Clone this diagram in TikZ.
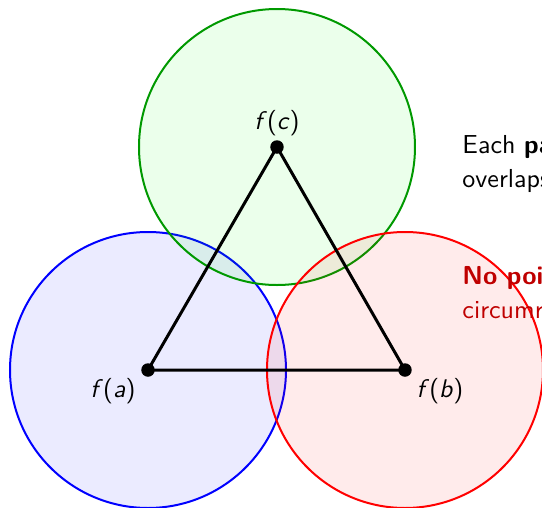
\documentclass[tikz,border=0pt]{standalone}
\usepackage{xcolor}
\newcommand{\fval}[1]{\textsl{f}(\textsl{#1})}
\begin{document}
\begin{tikzpicture}[
    x=0.4pt, y=-0.4pt,
    ball/.style={draw=#1, thick, fill=#1, fill opacity=0.08, draw opacity=1},
    edge/.style={very thick, black},
    pt/.style={circle, fill=black, inner sep=0pt, minimum size=5.4pt},
    lbl/.style={font=\sffamily\fontsize{10.2}{13}\selectfont, text=black},
    note/.style={font=\sffamily\fontsize{10.4}{13.6}\selectfont, align=left, anchor=base west, inner sep=0pt},
]
\useasboundingbox (0,0) rectangle (542,508);
\coordinate (a) at (148,370);
\coordinate (b) at (405,370);
\coordinate (c) at (277,147);
\filldraw[ball=blue]              (a) circle[radius=138*0.4pt];
\filldraw[ball=green!60!black, fill=green] (c) circle[radius=138*0.4pt];
\filldraw[ball=red]               (b) circle[radius=138*0.4pt];
\draw[edge] (a) -- (b) -- (c) -- cycle;
\node[pt] (pa) at (a) {};
\node[pt] (pb) at (b) {};
\node[pt] (pc) at (c) {};
\node[lbl] (la) at (113,391) {\fval{a}};
\node[lbl] (lb) at (440,391) {\fval{b}};
\node[lbl] (lc) at (277,123) {\fval{c}};
% last line sits on the given baseline
\node[note] (n1) at (462,187) {Each \textbf{pair} of balls\\overlaps};
\node[note, text=red!75!black] (n2) at (462,318) {\textbf{No point} in all three\\circumradius $> r$};
\end{tikzpicture}
\end{document}
